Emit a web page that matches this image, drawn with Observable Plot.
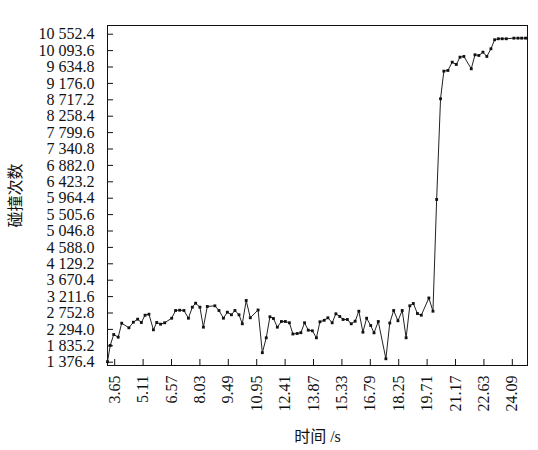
<!DOCTYPE html>
<html><head><meta charset="utf-8">
<script src="https://cdn.jsdelivr.net/npm/d3@7"></script>
<script src="https://cdn.jsdelivr.net/npm/@observablehq/plot@0.6"></script>
<style>
body{margin:0;background:#fff}
#chart svg text { font-family: "Liberation Serif", "Times New Roman", Times, serif !important; }
#chart svg g[aria-label="y-axis label"] text, #chart svg g[aria-label="x-axis label"] text { font-family: "Liberation Serif", "Noto Sans CJK SC", serif !important; }
</style>
</head><body><div id="chart"></div>
<script>
const times = [3.28, 3.42, 3.60, 3.83, 4.01, 4.38, 4.61, 4.83, 5.02, 5.21,
  5.41, 5.64, 5.81, 6.01, 6.22, 6.58, 6.78, 6.99, 7.21, 7.44,
  7.64, 7.81, 8.03, 8.21, 8.41, 8.80, 9.01, 9.24, 9.44, 9.65,
  9.83, 10.04, 10.21, 10.41, 10.62, 11.02, 11.24, 11.44, 11.63, 11.81,
  12.01, 12.22, 12.42, 12.63, 12.81, 13.03, 13.22, 13.41, 13.60, 13.81,
  14.02, 14.20, 14.42, 14.61, 14.83, 15.02, 15.22, 15.39, 15.61, 15.81,
  16.01, 16.20, 16.41, 16.60, 16.81, 16.98, 17.20, 17.59, 17.79, 17.99,
  18.21, 18.43, 18.63, 18.82, 19.00, 19.21, 19.41, 19.80, 20.01, 20.20,
  20.40, 20.57, 20.78, 21.00, 21.21, 21.40, 21.60, 21.98, 22.17, 22.37,
  22.58, 22.78, 22.99, 23.18, 23.37, 23.57, 23.78, 24.17, 24.38, 24.57, 24.77];
const counts = [1390, 1844, 2151, 2076, 2468, 2339, 2495, 2580, 2487, 2691,
  2719, 2283, 2487, 2440, 2479, 2607, 2823, 2831, 2823, 2607,
  2915, 3027, 2915, 2356, 2935, 2954, 2823, 2607, 2775, 2703,
  2823, 2703, 2451, 3103, 2619, 2837, 1642, 2059, 2647, 2599,
  2356, 2515, 2515, 2479, 2165, 2179, 2202, 2479, 2272, 2255,
  2059, 2507, 2549, 2619, 2479, 2731, 2655, 2571, 2571, 2451,
  2523, 2803, 2216, 2607, 2403, 2198, 2515, 1472, 2473, 2823,
  2535, 2823, 2059, 2954, 3019, 2739, 2691, 3173, 2803, 5929,
  8746, 9519, 9538, 9770, 9706, 9910, 9930, 9585, 9977, 9958,
  10050, 9930, 10145, 10397, 10425, 10425, 10425, 10442, 10442, 10442, 10442];
const xTicks = [3.65, 5.11, 6.57, 8.03, 9.49, 10.95, 12.41, 13.87, 15.33, 16.79, 18.25, 19.71, 21.17, 22.63, 24.09];
const yTicks = [1376.4, 1835.2, 2294.0, 2752.8, 3211.6, 3670.4, 4129.2, 4588.0, 5046.8, 5505.6,
  5964.4, 6423.2, 6882.0, 7340.8, 7799.6, 8258.4, 8717.2, 9176.0, 9634.8, 10093.6, 10552.4];
const yTickLabels = ["1 376.4", "1 835.2", "2 294.0", "2 752.8", "3 211.6", "3 670.4", "4 129.2", "4 588.0", "5 046.8", "5 505.6",
  "5 964.4", "6 423.2", "6 882.0", "7 340.8", "7 799.6", "8 258.4", "8 717.2", "9 176.0", "9 634.8", "10 093.6", "10 552.4"];
const xTitle = "时间 /s";
const yTitle = "碰撞次数";

const data = times.map((t, i) => ({t, c: counts[i]}));
const yLabelOf = new Map(yTicks.map((v, i) => [v, yTickLabels[i]]));

const chart = Plot.plot({
  width: 538, height: 450,
  marginLeft: 107, marginRight: 11, marginTop: 25, marginBottom: 85,
  style: {fontSize: "16px", color: "#111", background: "#fff"},
  x: {domain: [3.28, 24.87]},
  y: {domain: [1284, 10796]},
  marks: [
    Plot.axisY(yTicks, {anchor: "left", tickSize: -6, tickPadding: 19, tickFormat: d => yLabelOf.get(d),
      label: yTitle, labelAnchor: "center", labelOffset: 98, labelArrow: "none"}),
    Plot.axisX(xTicks, {anchor: "bottom", tickSize: -6, tickPadding: 16, tickRotate: -90, tickFormat: d => d.toFixed(2),
      label: xTitle, labelAnchor: "center", labelOffset: 76, labelArrow: "none"}),
    Plot.frame({stroke: "#111"}),
    Plot.line(data, {x: "t", y: "c", stroke: "#222", strokeWidth: 1}),
    Plot.dot(data, {x: "t", y: "c", symbol: "square", r: 1.6, fill: "#111", stroke: "none"})
  ]
});
document.getElementById("chart").appendChild(chart);
</script>
</body></html>
